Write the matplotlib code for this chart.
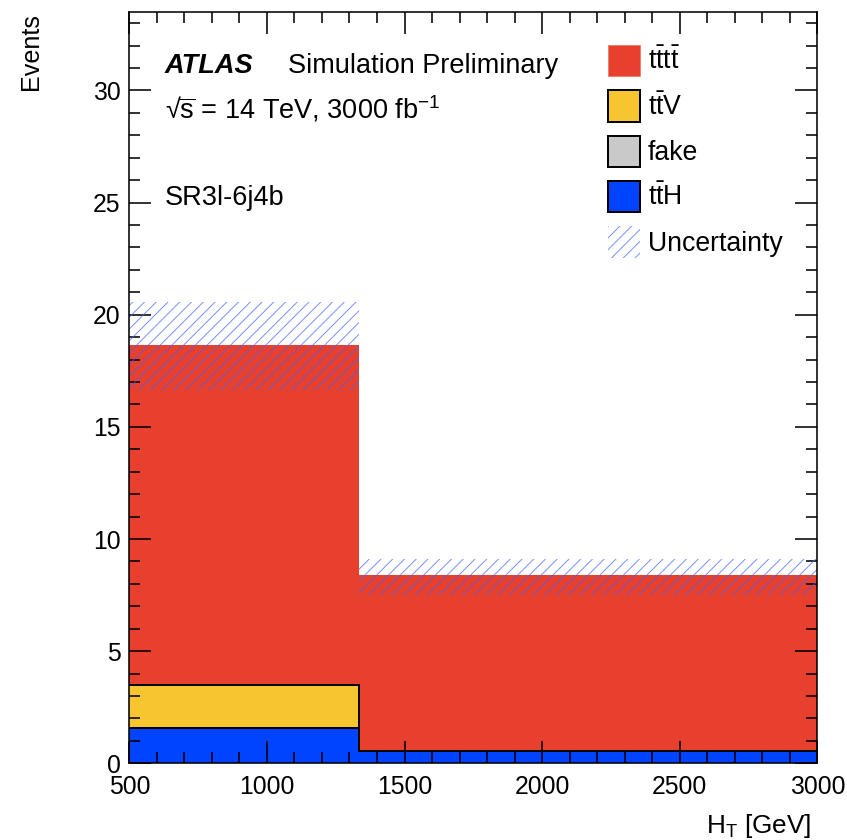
import numpy as np
import matplotlib
matplotlib.use("Agg")
import matplotlib.pyplot as plt
from matplotlib.patches import Patch
from matplotlib.ticker import MultipleLocator

# --- data -------------------------------------------------------------
bin_edges = [500, 1333, 3000]          # H_T bins [GeV]
tth = [1.56, 0.55]                     # ttH
fake = [0.0, 0.0]                      # fake leptons
ttv = [1.93, 0.0]                      # ttV
tttt = [15.14, 7.83]                   # four-top signal
unc_up = [1.95, 0.72]                  # total uncertainty (up)
unc_down = [2.0, 0.88]                 # total uncertainty (down)

labels = [r"$\mathrm{t\bar{t}t\bar{t}}$", r"$\mathrm{t\bar{t}V}$", "fake",
          r"$\mathrm{t\bar{t}H}$", "Uncertainty"]

# --- style ------------------------------------------------------------
DPI = 141.333
plt.rcParams["font.family"] = ["Liberation Sans", "DejaVu Sans"]
plt.rcParams["mathtext.fontset"] = "custom"
plt.rcParams["mathtext.rm"] = "Liberation Sans"
plt.rcParams["mathtext.it"] = "Liberation Sans:italic"
plt.rcParams["mathtext.bf"] = "Liberation Sans:bold"
plt.rcParams["hatch.linewidth"] = 0.5
unc_color = (0.25, 0.38, 1.0, 0.7)
plt.rcParams["hatch.color"] = unc_color

c_tttt = "#e8402f"
c_ttv = "#f7c530"
c_fake = "#c9c9c9"
c_tth = "#0044ff"

TXT = 13.8

fig = plt.figure(figsize=(848 / DPI, 840 / DPI), dpi=DPI)
W, H = 848, 840
ax = fig.add_axes([129.3 / W, 1 - 763.3 / H, (817.3 - 129.3) / W, (763.3 - 12) / H])

edges = np.array(bin_edges, dtype=float)
stack = [(tth, c_tth, True), (fake, c_fake, True), (ttv, c_ttv, True), (tttt, c_tttt, False)]
bottom = np.zeros(len(tth))
for vals, col, outline in stack:
    top = bottom + np.array(vals)
    ax.stairs(top, edges, baseline=bottom, fill=True, color=col, lw=0, zorder=1)
    bottom = top
# step outlines of the stacked histograms
bottom = np.zeros(len(tth))
for vals, col, outline in stack:
    top = bottom + np.array(vals)
    if outline:
        ax.stairs(top, edges, baseline=None, color="black", lw=1.0, zorder=1.5)
    bottom = top
total = bottom
band_lo = total - np.array(unc_down)
band_hi = total + np.array(unc_up)
ax.stairs(band_hi, edges, baseline=band_lo, fill=True, facecolor="none",
          edgecolor=unc_color, hatch="////", lw=0, zorder=1.8)

ax.set_xlim(500, 3000)
ax.set_ylim(0, 33.5)

ax.xaxis.set_major_locator(MultipleLocator(500))
ax.xaxis.set_minor_locator(MultipleLocator(100))
ax.yaxis.set_major_locator(MultipleLocator(5))
ax.yaxis.set_minor_locator(MultipleLocator(1))
ax.tick_params(which="both", direction="in", top=True, right=True, width=0.8,
               colors="black", labelsize=12.6)
ax.tick_params(which="major", length=11)
ax.tick_params(which="minor", length=5.8)
ax.tick_params(axis="y", pad=4.5)
ax.tick_params(axis="x", pad=6)
for s in ax.spines.values():
    s.set_linewidth(0.8)

ax.set_ylabel("Events", fontsize=12.8, loc="top")
ax.yaxis.set_label_coords(-0.125, 0.998)
ax.set_xlabel(r"H$_{\mathrm{T}}$ [GeV]", fontsize=13.3, loc="right")
ax.xaxis.set_label_coords(0.991, -0.065)
ax.xaxis.label.set_va("top")

# annotations
fig.text(165 / W, 1 - 73 / H, "ATLAS", fontsize=TXT, fontweight="bold",
         fontstyle="italic", va="baseline", ha="left")
fig.text(288 / W, 1 - 73 / H, "Simulation Preliminary", fontsize=TXT,
         va="baseline", ha="left")
fig.text(165 / W, 1 - 118 / H, r"√$\overline{\mathrm{s}}$ = 14 TeV, 3000 fb$^{-1}$",
         fontsize=TXT, va="baseline", ha="left")
fig.text(165 / W, 1 - 205 / H, "SR3l-6j4b", fontsize=TXT, va="baseline", ha="left")

# legend
handles = [
    Patch(facecolor=c_tttt, edgecolor="#f08070", lw=0.5),
    Patch(facecolor=c_ttv, edgecolor="black", lw=1.0),
    Patch(facecolor=c_fake, edgecolor="black", lw=1.0),
    Patch(facecolor=c_tth, edgecolor="black", lw=1.0),
    Patch(facecolor="none", edgecolor=unc_color, hatch="////", lw=0),
]
leg = ax.legend(handles, labels, loc="upper left",
                bbox_to_anchor=(608 / W, 1 - 45 / H), bbox_transform=fig.transFigure,
                frameon=False, fontsize=13.6, borderpad=0, borderaxespad=0,
                handlelength=1.2, handleheight=1.42, handletextpad=0.28,
                labelspacing=0.53)

fig.savefig("out.png", dpi=DPI)
